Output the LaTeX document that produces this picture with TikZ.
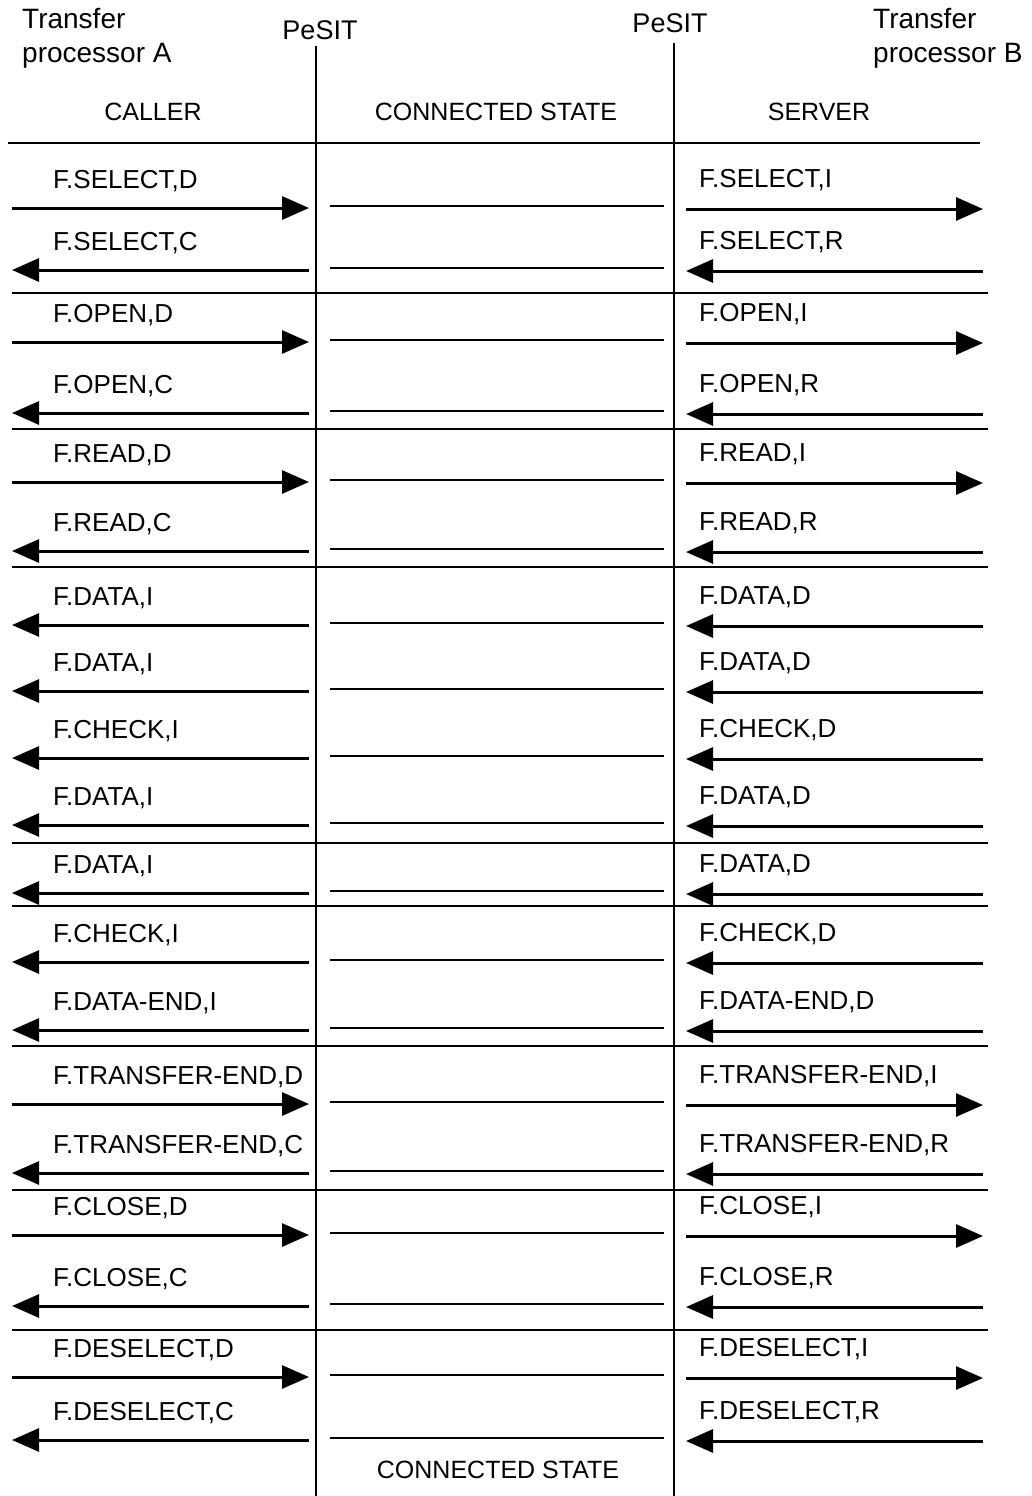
\documentclass[tikz,border=0pt]{standalone}
\usepackage{fontspec}
\setmainfont{Liberation Sans}
\usetikzlibrary{arrows.meta}

\begin{document}
\begin{tikzpicture}[x=1pt,y=-1pt,
  lbl/.style={anchor=base west, inner sep=0pt, font=\fontsize{26}{28}\selectfont},
  head/.style={anchor=base, inner sep=0pt, font=\fontsize{25}{28}\selectfont},
  msgRight/.style={line width=3pt, -{Triangle[length=27pt,width=23pt]}},
  msgLeft/.style={line width=3pt, {Triangle[length=27pt,width=23pt]}-},
  midLine/.style={line width=2.8pt},
  sepLine/.style={line width=2.8pt}]

% Cornice
\useasboundingbox (0,0) rectangle (1032,1496);

% Intestazioni
\node[anchor=north west, inner sep=0pt, align=left, font=\fontsize{28}{34}\selectfont]
  (procA) at (22,8) {Transfer\\processor A};
\node[anchor=north west, inner sep=0pt, align=left, font=\fontsize{28}{34}\selectfont]
  (procB) at (873,8) {Transfer\\processor B};
\node[head, font=\fontsize{27}{28}\selectfont] (pesitA) at (320,40) {PeSIT};
\node[head, font=\fontsize{27}{28}\selectfont] (pesitB) at (670,33) {PeSIT};
\node[head] (caller) at (153,120) {CALLER};
\node[head] (connTop) at (496,120) {CONNECTED STATE};
\node[head] (server) at (819,120) {SERVER};
\node[head] (connBot) at (498,1478) {CONNECTED STATE};

% Linee verticali PeSIT
\coordinate (vA1) at (316,46);
\coordinate (vA2) at (316,1496);
\coordinate (vB1) at (674,43);
\coordinate (vB2) at (674,1496);
\draw[line width=2.6pt] (vA1) -- (vA2);
\draw[line width=2.6pt] (vB1) -- (vB2);

% Separatori
\draw[sepLine] (8,143) -- (980,143);
\foreach \y in {293,429,567,843,906,1046,1190,1330}
  \draw[sepLine] (12,\y) -- (988,\y);

% Primitive: n / y freccia / lato A / lato B / verso
\foreach \n/\y/\labA/\labB/\dir in {
  1/208/{F.SELECT,D}/{F.SELECT,I}/Right,
  2/270/{F.SELECT,C}/{F.SELECT,R}/Left,
  3/342/{F.OPEN,D}/{F.OPEN,I}/Right,
  4/413/{F.OPEN,C}/{F.OPEN,R}/Left,
  5/482/{F.READ,D}/{F.READ,I}/Right,
  6/551/{F.READ,C}/{F.READ,R}/Left,
  7/625/{F.DATA,I}/{F.DATA,D}/Left,
  8/691/{F.DATA,I}/{F.DATA,D}/Left,
  9/758/{F.CHECK,I}/{F.CHECK,D}/Left,
  10/825/{F.DATA,I}/{F.DATA,D}/Left,
  11/893/{F.DATA,I}/{F.DATA,D}/Left,
  12/962/{F.CHECK,I}/{F.CHECK,D}/Left,
  13/1030/{F.DATA-END,I}/{F.DATA-END,D}/Left,
  14/1104/{F.TRANSFER-END,D}/{F.TRANSFER-END,I}/Right,
  15/1173/{F.TRANSFER-END,C}/{F.TRANSFER-END,R}/Left,
  16/1235/{F.CLOSE,D}/{F.CLOSE,I}/Right,
  17/1306/{F.CLOSE,C}/{F.CLOSE,R}/Left,
  18/1377/{F.DESELECT,D}/{F.DESELECT,I}/Right,
  19/1440/{F.DESELECT,C}/{F.DESELECT,R}/Left}
{
  \node[lbl] (capA\n) at (53,\y-20) {\labA};
  \node[lbl] (capB\n) at (699,\y-21) {\labB};
  \coordinate (aL\n) at (12,\y);
  \coordinate (aR\n) at (309,\y);
  \coordinate (mL\n) at (330,\y-2);
  \coordinate (mR\n) at (664,\y-2);
  \coordinate (bL\n) at (686,\y+1);
  \coordinate (bR\n) at (983,\y+1);
  \draw[msg\dir] (aL\n) -- (aR\n);
  \draw[midLine] (mL\n) -- (mR\n);
  \draw[msg\dir] (bL\n) -- (bR\n);
}
\end{tikzpicture}
\end{document}
